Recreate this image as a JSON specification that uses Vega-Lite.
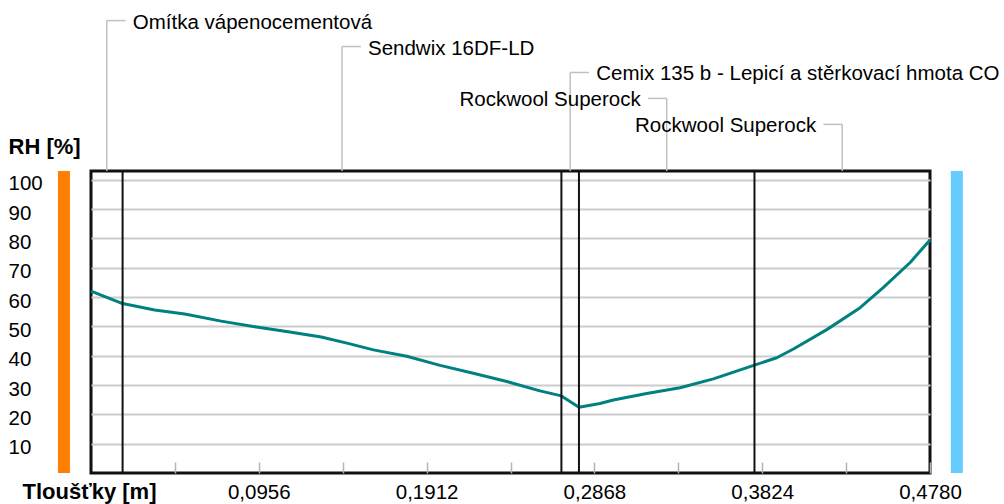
{
  "$schema": "https://vega.github.io/schema/vega-lite/v6.json",
  "width": 839,
  "height": 302,
  "autosize": {"type": "none"},
  "padding": {"left": 91, "top": 171, "right": 74, "bottom": 31},
  "background": "#ffffff",
  "config": {
    "view": {"stroke": "#111111", "strokeWidth": 3},
    "font": "Liberation Sans",
    "text": {"font": "Liberation Sans", "fontSize": 20.5, "color": "#000000"}
  },
  "datasets": {
    "rh": [
      {"tloustka": 0, "rh": 62.0},
      {"tloustka": 0.018, "rh": 57.8},
      {"tloustka": 0.0363, "rh": 55.6},
      {"tloustka": 0.0534, "rh": 54.2},
      {"tloustka": 0.0742, "rh": 51.8},
      {"tloustka": 0.0933, "rh": 49.9},
      {"tloustka": 0.1123, "rh": 48.2},
      {"tloustka": 0.1312, "rh": 46.4},
      {"tloustka": 0.1464, "rh": 44.2},
      {"tloustka": 0.1609, "rh": 42.0},
      {"tloustka": 0.1799, "rh": 39.8},
      {"tloustka": 0.1989, "rh": 36.7},
      {"tloustka": 0.2178, "rh": 34.0},
      {"tloustka": 0.2369, "rh": 31.2},
      {"tloustka": 0.2558, "rh": 28.0},
      {"tloustka": 0.268, "rh": 26.3},
      {"tloustka": 0.278, "rh": 22.4},
      {"tloustka": 0.29, "rh": 23.7},
      {"tloustka": 0.2976, "rh": 24.9},
      {"tloustka": 0.3166, "rh": 27.1},
      {"tloustka": 0.3356, "rh": 29.1},
      {"tloustka": 0.3546, "rh": 32.1},
      {"tloustka": 0.378, "rh": 36.8},
      {"tloustka": 0.3907, "rh": 39.3},
      {"tloustka": 0.4002, "rh": 42.3},
      {"tloustka": 0.4192, "rh": 48.9},
      {"tloustka": 0.4382, "rh": 56.4},
      {"tloustka": 0.4515, "rh": 63.3},
      {"tloustka": 0.4667, "rh": 71.8},
      {"tloustka": 0.478, "rh": 79.5}
    ],
    "vrstvy": [
      {"vrstva": "Omítka vápenocementová", "zacatek": 0, "konec": 0.018, "strana": "vpravo"},
      {"vrstva": "Sendwix 16DF-LD", "zacatek": 0.018, "konec": 0.268, "strana": "vpravo"},
      {"vrstva": "Cemix 135 b - Lepicí a stěrkovací hmota CO", "zacatek": 0.268, "konec": 0.278, "strana": "vpravo"},
      {"vrstva": "Rockwool Superock", "zacatek": 0.278, "konec": 0.378, "strana": "vlevo"},
      {"vrstva": "Rockwool Superock", "zacatek": 0.378, "konec": 0.478, "strana": "vlevo"}
    ],
    "okraje": [
      {"strana": "interiér", "poloha": -0.0154},
      {"strana": "exteriér", "poloha": 0.4933}
    ]
  },
  "layer": [
    {
      "data": {"name": "rh"},
      "mark": {"type": "line", "color": "#008080", "strokeWidth": 3, "strokeJoin": "round"},
      "encoding": {
        "x": {
          "field": "tloustka", "type": "quantitative", "title": "Tloušťky [m]",
          "scale": {"domain": [0, 0.478], "nice": false, "zero": false},
          "axis": {
            "values": [0.0478, 0.0956, 0.1434, 0.1912, 0.239, 0.2868, 0.3346, 0.3824, 0.4302, 0.478],
            "tickCount": 12,
            "labelExpr": "abs(datum.value / 0.0956 - round(datum.value / 0.0956)) < 0.01 ? replace(format(datum.value, '.4f'), '.', ',') : ''",
            "grid": false,
            "domain": false,
            "ticks": true,
            "tickSize": -11,
            "tickColor": "#b4b4b4",
            "tickWidth": 1.5,
            "labelFont": "Liberation Sans",
            "labelFontSize": 20.5,
            "labelColor": "#000000",
            "labelBaseline": "alphabetic",
            "labelPadding": 36,
            "labelFlush": false,
            "labelOverlap": false,
            "labelBound": false,
            "titleFont": "Liberation Sans",
            "titleFontSize": 22,
            "titleFontWeight": "bold",
            "titleColor": "#000000",
            "titleAlign": "left",
            "titleBaseline": "alphabetic",
            "titleX": -69,
            "titleY": 25
          }
        },
        "y": {
          "field": "rh", "type": "quantitative", "title": "RH [%]",
          "scale": {"domain": [0, 103], "nice": false, "zero": false},
          "axis": {
            "values": [10, 20, 30, 40, 50, 60, 70, 80, 90, 100],
            "tickCount": 12,
            "grid": true,
            "gridColor": "#cccccc",
            "gridWidth": 2,
            "domain": false,
            "ticks": false,
            "labelFont": "Liberation Sans",
            "labelFontSize": 20.5,
            "labelColor": "#000000",
            "labelAlign": "left",
            "labelBaseline": "middle",
            "labelPadding": 83,
            "labelOffset": 4,
            "labelOverlap": false,
            "labelFlush": false,
            "labelBound": false,
            "titleFont": "Liberation Sans",
            "titleFontSize": 22,
            "titleFontWeight": "bold",
            "titleColor": "#000000",
            "titleAngle": 0,
            "titleAlign": "left",
            "titleBaseline": "alphabetic",
            "titleX": -83,
            "titleY": -18
          }
        }
      }
    },
    {
      "data": {"name": "okraje"},
      "mark": {"type": "rule", "strokeWidth": 12, "strokeCap": "butt"},
      "encoding": {
        "x": {"field": "poloha", "type": "quantitative", "title": "Tloušťky [m]"},
        "color": {"field": "strana", "type": "nominal", "scale": {"domain": ["interiér", "exteriér"], "range": ["#ff8000", "#66ccff"]}, "legend": null}
      }
    },
    {
      "data": {"name": "vrstvy"},
      "transform": [{"filter": "datum.konec < 0.478"}],
      "mark": {"type": "rule", "color": "#111111", "strokeWidth": 2},
      "encoding": {
        "x": {"field": "konec", "type": "quantitative", "title": "Tloušťky [m]"}
      }
    },
    {
      "data": {"name": "vrstvy"},
      "transform": [
        {"window": [{"op": "row_number", "as": "poradi"}]},
        {"calculate": "(datum.zacatek + datum.konec) / 2", "as": "stred"},
        {"calculate": "154.3 - 8.85 * (datum.poradi - 1)", "as": "uroven"},
        {"calculate": "datum.strana == 'vpravo' ? datum.stred + 0.0107 : datum.stred - 0.0107", "as": "konecVodice"}
      ],
      "layer": [
        {
          "mark": {"type": "rule", "color": "#c0c0c0", "strokeWidth": 1.5},
          "encoding": {
            "x": {"field": "stred", "type": "quantitative", "title": "Tloušťky [m]"},
            "y": {"field": "uroven", "type": "quantitative", "title": "RH [%]"},
            "y2": {"datum": 103}
          }
        },
        {
          "mark": {"type": "rule", "color": "#c0c0c0", "strokeWidth": 1.5},
          "encoding": {
            "x": {"field": "stred", "type": "quantitative", "title": "Tloušťky [m]"},
            "x2": {"field": "konecVodice"},
            "y": {"field": "uroven", "type": "quantitative", "title": "RH [%]"}
          }
        },
        {
          "transform": [{"filter": "datum.strana == 'vpravo'"}],
          "mark": {"type": "text", "align": "left", "baseline": "middle", "dx": 26, "dy": 2, "font": "Liberation Sans", "fontSize": 20.5, "color": "#000000"},
          "encoding": {
            "x": {"field": "stred", "type": "quantitative", "title": "Tloušťky [m]"},
            "y": {"field": "uroven", "type": "quantitative", "title": "RH [%]"},
            "text": {"field": "vrstva"}
          }
        },
        {
          "transform": [{"filter": "datum.strana == 'vlevo'"}],
          "mark": {"type": "text", "align": "right", "baseline": "middle", "dx": -26, "dy": 2, "font": "Liberation Sans", "fontSize": 20.5, "color": "#000000"},
          "encoding": {
            "x": {"field": "stred", "type": "quantitative", "title": "Tloušťky [m]"},
            "y": {"field": "uroven", "type": "quantitative", "title": "RH [%]"},
            "text": {"field": "vrstva"}
          }
        }
      ]
    }
  ]
}
